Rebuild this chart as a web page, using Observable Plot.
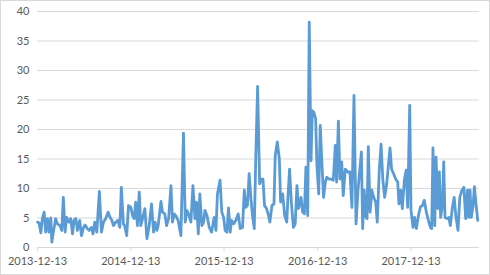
<!DOCTYPE html>
<html>
<head>
<meta charset="utf-8">
<script src="https://cdn.jsdelivr.net/npm/d3@7"></script>
<script src="https://cdn.jsdelivr.net/npm/@observablehq/plot@0.6"></script>
<style>
  html, body { margin: 0; padding: 0; background: #fff; }
  #chart svg { display: block; outline: 1px solid #d9d9d9; outline-offset: -1px; }
</style>
</head>
<body>
<div id="chart"></div>
<script>
const dates = [
"2013-12-13","2013-12-19","2013-12-26",
"2014-01-01","2014-01-08","2014-01-14","2014-01-21","2014-01-27","2014-02-03","2014-02-07","2014-02-13","2014-02-22","2014-03-01","2014-03-11","2014-03-18","2014-03-24","2014-03-31","2014-04-06","2014-04-15","2014-04-22","2014-04-29","2014-05-05","2014-05-12","2014-05-18","2014-05-27","2014-06-03","2014-06-11","2014-06-17","2014-06-26","2014-07-03","2014-07-12","2014-07-18","2014-07-25","2014-08-02","2014-08-12","2014-08-20","2014-08-28","2014-09-06","2014-09-15","2014-09-23","2014-09-30","2014-10-06","2014-10-15","2014-10-24","2014-10-31","2014-11-06","2014-11-14","2014-11-19","2014-11-27","2014-12-04","2014-12-13","2014-12-20","2014-12-26",
"2015-01-01","2015-01-08","2015-01-15","2015-01-21","2015-01-28","2015-02-06","2015-02-14","2015-02-23","2015-03-04","2015-03-12","2015-03-18","2015-03-25","2015-03-30","2015-04-10","2015-04-16","2015-04-25","2015-05-02","2015-05-10","2015-05-19","2015-05-25","2015-06-01","2015-06-07","2015-06-16","2015-06-27","2015-07-07","2015-07-14","2015-07-20","2015-07-27","2015-08-05","2015-08-13","2015-08-21","2015-08-27","2015-09-03","2015-09-09","2015-09-17","2015-09-24","2015-09-29","2015-10-07","2015-10-16","2015-10-25","2015-11-04","2015-11-11","2015-11-17","2015-11-27","2015-12-04","2015-12-11","2015-12-17","2015-12-24","2015-12-30",
"2016-01-06","2016-01-11","2016-01-19","2016-01-28","2016-02-06","2016-02-14","2016-02-23","2016-03-01","2016-03-07","2016-03-13","2016-03-20","2016-03-27","2016-04-02","2016-04-09","2016-04-15","2016-04-22","2016-04-30","2016-05-06","2016-05-13","2016-05-19","2016-05-27","2016-06-04","2016-06-09","2016-06-17","2016-06-25","2016-06-30","2016-07-08","2016-07-16","2016-07-21","2016-07-29","2016-08-06","2016-08-14","2016-08-19","2016-08-25","2016-09-01","2016-09-09","2016-09-16","2016-09-23","2016-09-29","2016-10-09","2016-10-15","2016-10-22","2016-10-28","2016-11-04","2016-11-10","2016-11-17","2016-11-22","2016-11-28","2016-12-05","2016-12-10","2016-12-17","2016-12-23","2016-12-30",
"2017-01-05","2017-01-12","2017-01-18","2017-01-27","2017-02-04","2017-02-12","2017-02-20","2017-02-25","2017-03-04","2017-03-10","2017-03-17","2017-03-23","2017-03-31","2017-04-09","2017-04-18","2017-04-26","2017-05-04","2017-05-12","2017-05-20","2017-05-26","2017-06-02","2017-06-07","2017-06-13","2017-06-20","2017-06-24","2017-06-29","2017-07-06","2017-07-13","2017-07-20","2017-07-28","2017-08-03","2017-08-11","2017-08-18","2017-08-25","2017-09-01","2017-09-09","2017-09-15","2017-09-22","2017-09-28","2017-10-06","2017-10-14","2017-10-22","2017-10-27","2017-11-03","2017-11-09","2017-11-17","2017-11-24","2017-11-30","2017-12-08","2017-12-13","2017-12-21","2017-12-27",
"2018-01-03","2018-01-11","2018-01-19","2018-01-27","2018-02-03","2018-02-11","2018-02-19","2018-02-27","2018-03-04","2018-03-09","2018-03-16","2018-03-21","2018-03-28","2018-04-03","2018-04-08","2018-04-15","2018-04-20","2018-04-25","2018-05-03","2018-05-10","2018-05-16","2018-05-24","2018-05-31","2018-06-07","2018-06-15","2018-06-22","2018-06-30","2018-07-08","2018-07-15","2018-07-22","2018-07-27","2018-08-01","2018-08-06","2018-08-13","2018-08-18","2018-08-25","2018-08-31"
];

const values = [
4.3,4.2,2.5,
4.9,6.0,2.6,4.9,2.6,5.0,0.9,2.6,4.9,4.0,3.7,2.9,8.5,2.6,5.1,4.3,4.9,2.3,4.6,4.9,2.9,4.6,2.0,3.4,3.8,3.2,2.9,3.4,2.3,4.3,2.6,9.5,2.6,4.3,4.9,6.0,5.1,4.6,3.7,4.3,4.6,3.4,10.2,4.0,3.7,2.0,7.1,6.8,5.4,4.9,
7.7,3.7,9.4,3.7,4.9,6.6,1.5,3.7,7.4,2.6,4.3,2.9,3.7,7.8,6.0,5.7,3.7,4.9,10.5,4.3,5.7,5.4,4.6,2.0,19.4,4.3,6.3,5.7,4.3,10.5,4.9,7.7,2.3,9.1,3.7,4.3,6.3,5.4,3.4,2.6,5.1,2.9,9.1,11.4,6.0,5.1,2.9,2.6,6.7,
2.6,4.6,4.0,4.6,5.7,3.2,3.4,9.7,6.8,7.1,12.5,8.2,5.4,3.2,15.6,27.3,10.8,11.6,11.6,7.1,6.6,5.4,4.3,7.1,7.4,15.6,17.9,15.0,7.7,9.1,5.4,4.3,8.8,13.3,7.7,3.4,4.0,10.5,6.6,8.5,6.0,5.7,13.6,5.4,38.2,14.7,23.2,22.9,21.8,13.9,9.1,20.7,13.9,
8.5,11.1,11.9,11.6,11.6,11.4,17.3,11.1,21.4,11.6,14.5,8.8,13.3,12.8,12.8,6.8,25.8,4.0,9.9,12.8,16.2,3.2,9.7,5.1,4.9,17.1,6.0,9.7,8.5,7.7,4.3,13.1,17.5,11.4,8.5,10.8,13.6,16.9,13.3,12.5,11.6,11.1,7.4,9.7,6.6,11.4,13.1,6.8,24.1,6.3,3.4,5.1,
3.2,5.4,6.9,7.1,8.0,6.0,4.6,3.4,3.2,16.9,3.7,15.3,6.6,12.8,5.1,7.1,14.5,5.1,4.9,5.1,3.7,6.8,8.5,5.1,2.9,8.5,9.7,10.2,4.9,9.7,5.1,9.7,5.1,7.1,10.3,7.1,4.6
];

const xTickLabels = ["2013-12-13","2014-12-13","2015-12-13","2016-12-13","2017-12-13"];
const xDomain = ["2013-12-13","2018-09-07"];
const yTicks = [0,5,10,15,20,25,30,35,40];

if (dates.length !== values.length) throw new Error("length mismatch " + dates.length + " vs " + values.length);

const parse = d3.utcParse("%Y-%m-%d");
const data = dates.map((d, i) => ({date: parse(d), value: values[i]}));
const xTicks = xTickLabels.map(parse);

const chart = Plot.plot({
  width: 490,
  height: 275,
  marginLeft: 37,
  marginRight: 11,
  marginTop: 11,
  marginBottom: 28,
  style: {fontFamily: "Lato, 'Open Sans', sans-serif", fontSize: "11px", color: "#595959", background: "#ffffff", overflow: "visible"},
  x: {type: "utc", domain: xDomain.map(parse)},
  y: {domain: [0, 40]},
  marks: [
    Plot.gridY(yTicks.filter(v => v > 0), {stroke: "#d9d9d9", strokeOpacity: 1, strokeWidth: 1}),
    Plot.axisY(yTicks, {tickSize: 0, tickPadding: 8, label: null, fill: "#595959"}),
    Plot.ruleY([0], {stroke: "#d9d9d9", strokeWidth: 1}),
    Plot.axisX(xTicks, {tickSize: 4, tickPadding: 6, tickFormat: d3.utcFormat("%Y-%m-%d"), label: null, stroke: "#d9d9d9", fill: "#595959"}),
    Plot.line(data, {x: "date", y: "value", stroke: "#5b9bd5", strokeWidth: 2.8, strokeLinejoin: "round", strokeLinecap: "round"})
  ]
});
document.getElementById("chart").appendChild(chart);
</script>
</body>
</html>
